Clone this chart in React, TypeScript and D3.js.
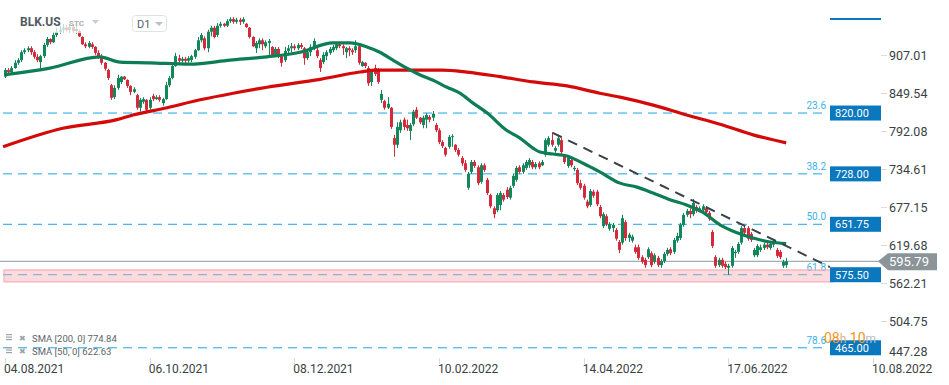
import React from 'react';
import * as d3 from 'd3';

// daily candles BLK.US, [open, high, low, close]
const candles: [number, number, number, number][] = [
  [875, 888, 873, 885], [885, 888, 879, 882], [882, 891, 881, 888], [888, 900, 887, 896], [896, 903, 893, 900],
  [900, 915, 897, 912], [912, 918, 909, 915], [915, 921, 912, 918], [918, 921, 908, 912], [912, 915, 902, 905],
  [905, 909, 897, 900], [897, 908, 885, 906], [906, 926, 903, 923], [923, 935, 920, 932], [932, 933, 924, 927],
  [927, 943, 926, 938], [938, 949, 935, 943], [943, 952, 940, 946], [946, 955, 941, 949], [949, 953, 943, 946],
  [946, 955, 941, 950], [950, 953, 941, 944], [944, 952, 940, 947], [944, 946, 935, 936], [935, 936, 923, 924],
  [924, 927, 918, 921], [920, 929, 918, 926], [924, 927, 917, 920], [920, 921, 908, 911], [911, 915, 902, 905],
  [905, 909, 893, 896], [896, 897, 884, 887], [885, 887, 870, 873], [862, 864, 840, 843], [844, 862, 841, 858],
  [858, 878, 855, 873], [867, 876, 864, 875], [875, 876, 870, 871], [870, 871, 858, 861], [861, 862, 847, 852],
  [852, 859, 850, 856], [847, 849, 825, 828], [828, 843, 822, 840], [837, 844, 834, 841], [840, 841, 820, 825],
  [828, 844, 825, 840], [846, 849, 838, 841], [841, 847, 840, 844], [844, 847, 837, 840], [835, 843, 831, 841],
  [841, 867, 840, 862], [862, 876, 859, 873], [873, 894, 871, 891], [891, 911, 890, 906], [903, 908, 896, 899],
  [899, 905, 896, 902], [902, 905, 894, 899], [899, 906, 896, 903], [900, 908, 897, 906], [905, 917, 902, 915],
  [915, 935, 914, 930], [930, 941, 927, 938], [933, 936, 915, 918], [918, 946, 912, 943], [943, 952, 936, 949],
  [949, 952, 933, 935], [938, 956, 935, 952], [952, 958, 949, 955], [955, 956, 950, 952], [952, 962, 950, 959],
  [959, 965, 956, 962], [962, 965, 955, 958], [958, 964, 955, 961], [961, 964, 953, 958], [958, 965, 955, 962],
  [955, 956, 949, 950], [949, 950, 933, 935], [935, 936, 920, 921], [918, 929, 911, 926], [924, 933, 918, 930],
  [930, 933, 915, 924], [921, 930, 918, 927], [926, 932, 908, 929], [920, 921, 905, 908], [908, 920, 905, 917],
  [917, 920, 903, 905], [906, 909, 890, 896], [900, 920, 897, 914], [914, 923, 909, 918], [918, 926, 912, 921],
  [921, 924, 915, 918], [918, 926, 915, 923], [923, 926, 917, 920], [918, 920, 893, 903], [903, 915, 900, 912],
  [912, 924, 906, 920], [920, 933, 915, 929], [915, 923, 903, 906], [900, 903, 882, 888], [897, 912, 894, 908],
  [906, 915, 900, 912], [911, 920, 908, 917], [915, 923, 912, 920], [918, 927, 915, 924], [924, 926, 918, 921],
  [921, 924, 908, 918], [912, 920, 903, 918], [918, 921, 906, 915], [915, 918, 908, 912], [915, 930, 911, 921],
  [921, 923, 893, 896], [891, 899, 890, 897], [896, 897, 888, 891], [888, 891, 861, 865], [867, 885, 861, 882],
  [888, 893, 876, 879], [885, 888, 864, 867], [840, 855, 835, 849], [838, 840, 825, 828], [828, 844, 826, 834],
  [828, 829, 796, 799], [782, 787, 754, 772], [772, 806, 767, 799], [794, 810, 790, 806], [810, 813, 794, 799],
  [802, 810, 793, 797], [793, 805, 779, 802], [803, 825, 800, 822], [825, 829, 811, 813], [813, 814, 803, 806],
  [802, 816, 797, 813], [810, 820, 797, 817], [814, 817, 806, 810], [813, 823, 808, 819], [802, 805, 791, 794],
  [794, 797, 773, 776], [776, 779, 767, 770], [767, 769, 754, 757], [769, 787, 766, 784], [784, 788, 769, 785],
  [772, 773, 761, 764], [764, 767, 754, 757], [752, 755, 740, 744], [744, 749, 731, 734], [707, 731, 704, 728],
  [731, 749, 728, 746], [746, 749, 737, 740], [738, 741, 711, 714], [716, 744, 713, 741], [741, 744, 731, 734],
  [719, 722, 696, 699], [696, 698, 676, 679], [676, 679, 661, 667], [673, 699, 670, 696], [681, 702, 673, 699],
  [696, 699, 686, 689], [704, 708, 690, 693], [692, 710, 689, 707], [710, 728, 707, 725], [719, 740, 716, 737],
  [738, 741, 728, 731], [731, 744, 728, 741], [737, 749, 734, 746], [741, 752, 737, 749], [746, 749, 735, 738],
  [738, 746, 735, 743], [744, 747, 735, 738], [741, 749, 740, 746], [757, 782, 754, 779], [772, 785, 769, 782],
  [779, 791, 769, 772], [763, 770, 760, 767], [772, 787, 769, 782], [779, 782, 758, 761], [757, 758, 743, 746],
  [740, 755, 737, 752], [749, 752, 738, 741], [735, 740, 732, 737], [734, 737, 711, 714], [714, 719, 704, 707],
  [710, 713, 689, 692], [686, 689, 676, 679], [681, 705, 678, 702], [701, 704, 692, 695], [701, 704, 679, 682],
  [678, 681, 661, 664], [649, 670, 646, 667], [664, 667, 649, 652], [645, 655, 642, 652], [646, 654, 640, 651],
  [643, 646, 627, 630], [625, 628, 608, 613], [624, 666, 621, 661], [655, 658, 627, 631], [631, 639, 625, 636],
  [627, 636, 624, 633], [617, 621, 607, 610], [617, 621, 598, 601], [602, 605, 592, 595], [598, 601, 586, 590],
  [602, 617, 599, 614], [608, 611, 587, 590], [595, 608, 592, 605], [601, 604, 587, 590], [590, 599, 586, 596],
  [596, 610, 593, 607], [607, 616, 604, 613], [614, 617, 605, 608], [610, 631, 607, 628], [627, 639, 624, 634],
  [631, 654, 628, 651], [651, 669, 648, 666], [666, 675, 663, 672], [672, 676, 661, 667], [667, 690, 664, 684],
  [678, 681, 669, 672], [673, 679, 670, 676], [673, 682, 670, 679], [676, 679, 667, 670], [669, 672, 657, 660],
  [640, 643, 616, 619], [602, 605, 586, 589], [590, 601, 587, 598], [598, 601, 586, 589], [592, 595, 584, 587],
  [586, 592, 575, 589], [589, 619, 586, 616], [608, 613, 601, 610], [610, 625, 607, 622], [624, 649, 621, 646],
  [646, 649, 636, 639], [646, 649, 627, 630], [637, 640, 625, 628], [605, 616, 602, 613], [605, 622, 602, 619],
  [613, 621, 610, 617], [616, 624, 613, 621], [621, 624, 614, 617], [616, 625, 613, 622], [621, 627, 617, 624],
  [613, 616, 601, 604], [610, 613, 599, 602], [589, 598, 586, 595], [590, 601, 586, 595.79],
];

// moving averages read at bar positions: [bar, value]
const sma50: [number, number][] = [
  [0, 878], [14, 888], [29.5, 905], [35.8, 897], [45, 896], [57.5, 894], [70, 900], [81.5, 905],
  [91.8, 912], [102, 926], [107.3, 926], [112.6, 920], [116.6, 912], [120.7, 900], [125, 888], [129, 878],
  [133, 870], [137.5, 859], [141.5, 850], [145.6, 835], [150, 820], [156, 794], [160.2, 782], [164.2, 767],
  [166.4, 761], [170.4, 758], [174.8, 755], [179.8, 744], [185, 731], [191.3, 714], [196.6, 708], [201.6, 699],
  [206.8, 689], [212, 681], [217, 670], [222.4, 651], [227.7, 639], [232.7, 631], [238, 625], [243, 622.63],
];
const sma200: [number, number][] = [
  [-0.6, 769], [18, 797], [34.8, 810], [39.8, 817], [50.4, 828], [60.7, 840], [71, 850], [81.5, 859],
  [98, 871], [110.4, 882], [115.7, 885], [136, 885], [143.7, 882], [154, 875], [164.2, 867], [174.8, 861],
  [185, 850], [191.3, 844], [201.6, 832], [212, 817], [222.4, 803], [232.7, 787], [243, 774.84],
];

const fibRatios = ['23.6', '38.2', '50.0', '61.8', '78.6'];
const fibPrices = [820.0, 728.0, 651.75, 575.5, 465.0];
const trendLine: [number, number][] = [[170.4, 790], [256.6, 587]];
const supportZone = [564.6, 582.7];
const lastPrice = 595.79;

const priceTicks = [907.01, 849.54, 792.08, 734.61, 677.15, 619.68, 562.21, 504.75, 447.28];
const dateTickBars = [0, 45, 90, 135, 180, 225, 270];
const dateTickLabels = ['04.08.2021', '06.10.2021', '08.12.2021', '10.02.2022', '14.04.2022', '17.06.2022', '10.08.2022'];

const W = 949;
const H = 385;
const FONT = 'Roboto, "Noto Sans", sans-serif';
const UP = '#12885a';
const DOWN = '#d52a3c';
const FIB = '#1ca4e8';
const TAG = '#0a78be';

const App: React.FC = () => {
  const x = d3.scaleLinear().domain([0, 270]).range([5, 873]);
  const y = d3.scaleLinear().domain([447.28, 907.01]).range([359.5, 55.5]);

  const smaLine = d3.line<[number, number]>()
    .x(d => x(d[0]))
    .y(d => y(d[1]))
    .curve(d3.curveMonotoneX);

  const plotRight = 827;

  return (
    <svg width={W} height={H} style={{ position: 'absolute', left: 0, top: 0, background: '#fff' }} fontFamily={FONT}>
      {/* fibonacci levels */}
      {fibPrices.map((p, i) => (
        <g key={'fib' + i}>
          <line x1={3} x2={plotRight} y1={y(p)} y2={y(p)} stroke={FIB} strokeWidth={1} strokeDasharray="9,6" />
          <text x={826} y={y(p) - 4} textAnchor="end" fontSize={10} fill="#3cb1ec">{fibRatios[i]}</text>
        </g>
      ))}

      {/* support zone */}
      <rect x={4} y={y(supportZone[1])} width={829} height={y(supportZone[0]) - y(supportZone[1])}
        fill="#f9a9b1" fillOpacity={0.42} stroke="#f3a3aa" strokeWidth={1} />

      {/* last price line */}
      <line x1={0} x2={880} y1={y(lastPrice)} y2={y(lastPrice)} stroke="#8c979b" strokeWidth={1} />

      {/* candles */}
      {candles.map((c, i) => {
        const [o, h, l, cl] = c;
        const cx = Math.round(x(i)) + 0.5;
        const col = cl >= o ? UP : DOWN;
        const top = y(Math.max(o, cl));
        const bh = Math.max(1, y(Math.min(o, cl)) - top);
        return (
          <g key={'c' + i}>
            <line x1={cx} x2={cx} y1={y(h)} y2={y(l)} stroke={col} strokeWidth={1} />
            <rect x={cx - 1.5} y={top} width={3} height={bh} fill={col} />
          </g>
        );
      })}

      {/* moving averages */}
      <path d={smaLine(sma200) || ''} fill="none" stroke="#d40a0a" strokeWidth={3.2} strokeLinejoin="round" />
      <path d={smaLine(sma50) || ''} fill="none" stroke="#0c7d54" strokeWidth={3.2} strokeLinejoin="round" />

      {/* trend line */}
      <line x1={x(trendLine[0][0])} y1={y(trendLine[0][1])} x2={x(trendLine[1][0])} y2={y(trendLine[1][1])}
        stroke="#37424a" strokeWidth={2} strokeDasharray="10,7" />

      {/* title */}
      <rect x={16} y={11} width={88} height={22} fill="#fff" fillOpacity={0.72} />
      <text x={20} y={26} fontSize={12} fontWeight={700} fill="#4f5a61">BLK.US</text>
      <text x={69} y={26} fontSize={8} fontWeight={700} fill="#a9b1b6">STC</text>
      <path d="M92,20 L99,20 L95.5,24 Z" fill="#c7cdd1" />
      <rect x={132.5} y={15.5} width={34} height={16} rx={3} fill="#fff" stroke="#e0e3e5" />
      <text x={137} y={28} fontSize={11} fill="#555f66">D1</text>
      <path d="M155,22 L163,22 L159,26 Z" fill="#b9c0c4" />

      {/* top indicator bar */}
      <line x1={830} x2={881} y1={19} y2={19} stroke={TAG} strokeWidth={2} />

      {/* price axis */}
      {priceTicks.map(p => {
        const ty = y(p);
        const ly = Math.min(ty, 351);
        return (
          <g key={'pt' + p}>
            {ty < 355 && <line x1={881} x2={887} y1={ty} y2={ty} stroke="#d8dcde" />}
            <text x={889} y={ly + 4.5} fontSize={12.5} fill="#3a3f44">{p.toFixed(2)}</text>
          </g>
        );
      })}

      {/* fib price tags */}
      {fibPrices.map((p, i) => (
        <g key={'tag' + i}>
          <rect x={830} y={y(p) - 7.5} width={51} height={15} fill={TAG} />
          <text x={835} y={y(p) + 4} fontSize={11} fill="#fff">{p.toFixed(2)}</text>
        </g>
      ))}

      {/* last price tag */}
      <path d={`M878,${y(lastPrice)} L888,${y(lastPrice) - 8} L937,${y(lastPrice) - 8} L937,${y(lastPrice) + 9} L888,${y(lastPrice) + 9} Z`}
        fill="#8a9499" />
      <text x={889} y={y(lastPrice) + 5} fontSize={13} fill="#fff">{lastPrice.toFixed(2)}</text>

      {/* countdown */}
      <text x={824} y={343} fontSize={14} fill="#f7941d">
        08<tspan fill="#d9b48a" fontSize={12}>h</tspan> 10<tspan fill="#b8bdc0" fontSize={12}>m</tspan>
      </text>

      {/* legend */}
      {[{ label: 'SMA  [200,  0]  774.84', ly: 339 }, { label: 'SMA  [50,  0]  622.63', ly: 352 }].map(item => (
        <g key={item.label}>
          <rect x={6} y={item.ly - 5} width={6} height={1.2} fill="#9aa3a8" />
          <rect x={6} y={item.ly - 2.5} width={6} height={1.2} fill="#9aa3a8" />
          <rect x={6} y={item.ly} width={6} height={1.2} fill="#9aa3a8" />
          <text x={19} y={item.ly + 2} fontSize={8} fill="#9aa3a8">✖</text>
          <text x={32} y={item.ly + 3} fontSize={9.5} fill="#5c656b">{item.label}</text>
        </g>
      ))}

      {/* date axis */}
      {dateTickBars.map((b, i) => (
        <g key={'dt' + b}>
          <line x1={Math.round(x(b)) + 0.5} x2={Math.round(x(b)) + 0.5} y1={358} y2={364} stroke="#d8dcde" />
          <text x={x(b) - 1} y={373} fontSize={12} fill="#3a3f44">{dateTickLabels[i]}</text>
        </g>
      ))}
    </svg>
  );
};

export default App;
